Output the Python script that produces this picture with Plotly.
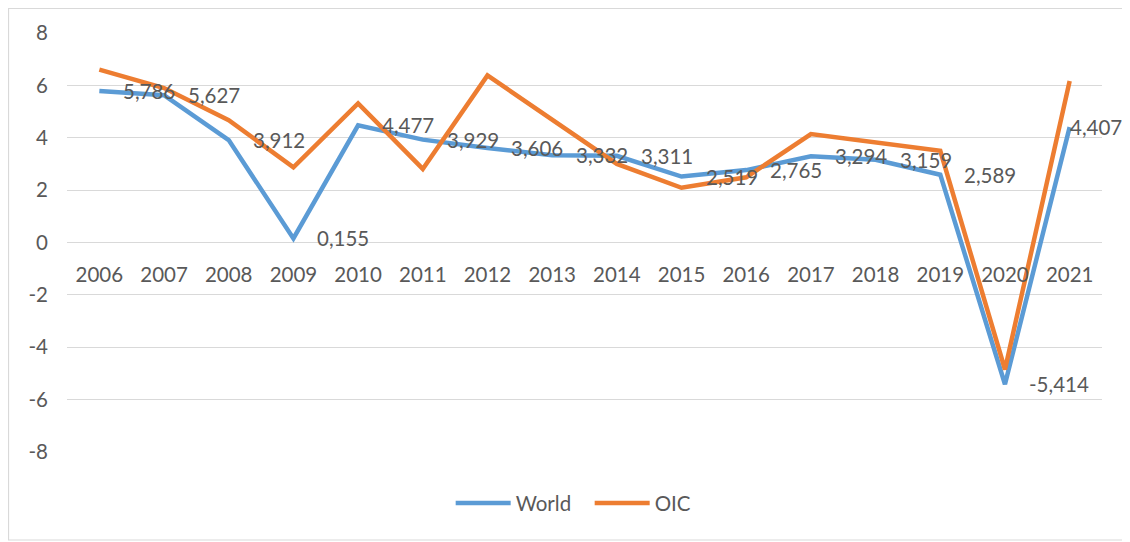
import plotly.graph_objects as go

years = [str(y) for y in range(2006, 2022)]
world = [5.786, 5.627, 3.912, 0.155, 4.477, 3.929, 3.606, 3.332, 3.311, 2.519,
         2.765, 3.294, 3.159, 2.589, -5.414, 4.407]
oic = [6.6, 5.9, 4.67, 2.87, 5.31, 2.81, 6.38, 4.7, 3.0, 2.09,
       2.49, 4.14, 3.82, 3.5, -4.85, 6.17]
y_ticks = [8, 6, 4, 2, 0, -2, -4, -6, -8]
y_tick_text = [str(v) for v in y_ticks]

BLUE = "#5B9BD5"
ORANGE = "#ED7D31"
TXT = "#595959"
GRID = "#D9D9D9"
FONT = "Lato"
FS = 20.5

fig = go.Figure()
fig.add_trace(go.Scatter(x=years, y=world, mode="lines", name="World",
                         line=dict(color=BLUE, width=4.5)))
fig.add_trace(go.Scatter(x=years, y=oic, mode="lines", name="OIC",
                         line=dict(color=ORANGE, width=4.5)))

for i, v in enumerate(world):
    fig.add_annotation(x=i, y=v, xref="x", yref="y",
                       text=f"{v:.3f}".replace(".", ","),
                       showarrow=False, xanchor="left", yanchor="middle",
                       xshift=(-2 if i == len(world) - 1 else 22),
                       font=dict(family=FONT, size=FS, color=TXT))

fig.add_shape(type="rect", xref="paper", yref="paper",
              x0=-0.0565, x1=1.1, y0=-0.21, y1=1.0585,
              line=dict(color=GRID, width=1.2), layer="below")

fig.update_layout(
    width=1122, height=534,
    margin=dict(l=59, r=28, t=25, b=90),
    paper_bgcolor="white", plot_bgcolor="white",
    font=dict(family=FONT, size=FS, color=TXT),
    showlegend=True,
    legend=dict(orientation="h", x=0.505, y=-0.122, xanchor="center",
                yanchor="middle", itemwidth=55,
                entrywidth=69, entrywidthmode="pixels",
                font=dict(family=FONT, size=FS, color=TXT)),
    xaxis=dict(type="category", range=[-0.5, 15.5], showgrid=False,
               showline=False, zeroline=False, anchor="free", position=0.5,
               ticks="outside", ticklen=14, tickcolor="rgba(0,0,0,0)",
               tickfont=dict(family=FONT, size=FS, color=TXT)),
    yaxis=dict(range=[-8, 8], tickvals=y_ticks, ticktext=y_tick_text,
               showgrid=True, gridcolor=GRID,
               gridwidth=1.3, zeroline=False, showline=False,
               ticks="outside", ticklen=14, tickcolor="rgba(0,0,0,0)",
               tickfont=dict(family=FONT, size=FS, color=TXT)),
)

fig.write_html("out.html")
